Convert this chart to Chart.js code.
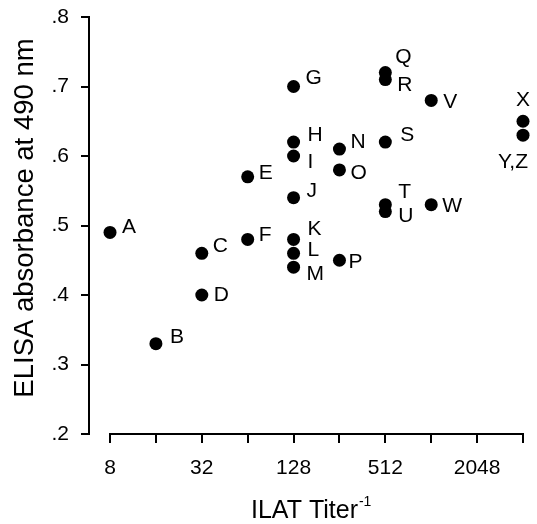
<!DOCTYPE html>
<html>
<head>
<meta charset="utf-8">
<script src="https://cdn.jsdelivr.net/npm/chart.js@4"></script>
<style>
  html, body { margin: 0; background: #fff; }
  #wrap { width: 537px; height: 524px; }
</style>
</head>
<body>
<div id="wrap"><canvas id="elisaChart"></canvas></div>
<script>
// serum samples, ILAT titer (reciprocal) and ELISA OD at 490 nm
const sera = ['A', 'B', 'C', 'D', 'E', 'F', 'G', 'H', 'I', 'J', 'K', 'L', 'M',
              'N', 'O', 'P', 'Q', 'R', 'S', 'T', 'U', 'V', 'W', 'X', 'Y,Z'];
const titers = [8, 16, 32, 32, 64, 64, 128, 128, 128, 128, 128, 128, 128,
                256, 256, 256, 512, 512, 512, 512, 512, 1024, 1024, 4096, 4096];
const absorbance = [0.49, 0.33, 0.46, 0.40, 0.57, 0.48, 0.70, 0.62, 0.60, 0.54, 0.48, 0.46, 0.44,
                    0.61, 0.58, 0.45, 0.72, 0.71, 0.62, 0.53, 0.52, 0.68, 0.53, 0.65, 0.63];
const xTickLabels = [8, 32, 128, 512, 2048];
const yTickValues = [0.2, 0.3, 0.4, 0.5, 0.6, 0.7, 0.8];

// where each letter sits next to its dot: [dx, dy, align]
const labelSpots = [
  [12, -5], [14, -6], [11, -7], [12, 0], [11, -4], [11, -4], [12, -8],
  [14, -7], [14, 6], [13, -6], [14, -10], [14, -3], [13, 7],
  [11, -7], [11, 3], [9, 2], [10, -15], [12, 6], [15, -7], [13, -12], [13, 5],
  [12, 2], [11, 2], [0, -21, 'center'], [-10, 27, 'center']
];

const FONT = 'Liberation Sans, Arial, sans-serif';

let points = [];
for (let i = 0; i < sera.length; i++) {
  points.push({ x: Math.log2(titers[i]), y: absorbance[i] });
}

const pointLabels = {
  id: 'pointLabels',
  afterDatasetsDraw(chart) {
    const ctx = chart.ctx;
    const meta = chart.getDatasetMeta(0);
    ctx.save();
    ctx.fillStyle = '#000';
    ctx.font = '21px ' + FONT;
    ctx.textBaseline = 'middle';
    meta.data.forEach((pt, i) => {
      const spot = labelSpots[i];
      ctx.textAlign = spot[2] || 'left';
      ctx.fillText(sera[i], pt.x + spot[0], pt.y + spot[1]);
    });
    ctx.restore();
  }
};

const axisExtras = {
  id: 'axisExtras',
  afterDraw(chart) {
    const ctx = chart.ctx;
    const xs = chart.scales.x;
    const area = chart.chartArea;
    ctx.save();
    // detached x axis line
    ctx.strokeStyle = '#000';
    ctx.lineWidth = 2;
    ctx.beginPath();
    ctx.moveTo(xs.getPixelForValue(3) - 1, area.bottom);
    ctx.lineTo(xs.getPixelForValue(12) + 1, area.bottom);
    ctx.stroke();

    ctx.fillStyle = '#000';
    // x title with superscript
    ctx.font = '25px ' + FONT;
    ctx.textAlign = 'left';
    ctx.textBaseline = 'alphabetic';
    ctx.fillText('ILAT Titer', 251, 518);
    const w = ctx.measureText('ILAT Titer').width;
    ctx.font = '14px ' + FONT;
    ctx.fillText('-1', 251 + w + 1, 506);

    // y title
    ctx.translate(33, 218);
    ctx.rotate(-Math.PI / 2);
    ctx.font = '27.5px ' + FONT;
    ctx.textAlign = 'center';
    ctx.fillText('ELISA absorbance at 490 nm', 0, 0);
    ctx.restore();
  }
};

const ctx = document.getElementById('elisaChart').getContext('2d');
const myChart = new Chart(ctx, {
  type: 'scatter',
  data: {
    datasets: [{
      label: 'sera',
      data: points,
      backgroundColor: '#000',
      borderWidth: 0,
      pointRadius: 6.5,
      pointHoverRadius: 6.5,
      clip: false
    }]
  },
  options: {
    responsive: true,
    maintainAspectRatio: false,
    animation: false,
    layout: { padding: { top: 17, right: 14, left: 0, bottom: 0 } },
    plugins: { legend: { display: false }, tooltip: { enabled: false } },
    scales: {
      x: {
        type: 'linear',
        min: 2.542,
        max: 12,
        afterBuildTicks: (scale) => {
          let t = [];
          for (let v = 3; v <= 12; v++) t.push({ value: v });
          scale.ticks = t;
        },
        afterFit: (scale) => {
          scale.height = 90;
          scale.paddingLeft = 0;
          scale.paddingRight = 0;
        },
        border: { display: false },
        grid: { drawOnChartArea: false, drawTicks: true, tickLength: 9, color: '#000', lineWidth: 2 },
        ticks: {
          autoSkip: false,
          maxRotation: 0,
          padding: 13,
          color: '#000',
          font: { family: FONT, size: 21 },
          callback: (v) => xTickLabels.includes(Math.pow(2, v)) ? String(Math.pow(2, v)) : ''
        }
      },
      y: {
        min: 0.2,
        max: 0.8,
        afterBuildTicks: (scale) => { scale.ticks = yTickValues.map(v => ({ value: v })); },
        afterFit: (scale) => {
          scale.width = 89;
          scale.paddingTop = 0;
          scale.paddingBottom = 0;
        },
        border: { display: true, color: '#000', width: 2 },
        grid: { drawOnChartArea: false, drawTicks: true, tickLength: 8, color: '#000', lineWidth: 2 },
        ticks: {
          padding: 12,
          color: '#000',
          font: { family: FONT, size: 21 },
          callback: (v) => v.toFixed(1).replace('0.', '.')
        }
      }
    }
  },
  plugins: [pointLabels, axisExtras]
});
</script>
</body>
</html>
